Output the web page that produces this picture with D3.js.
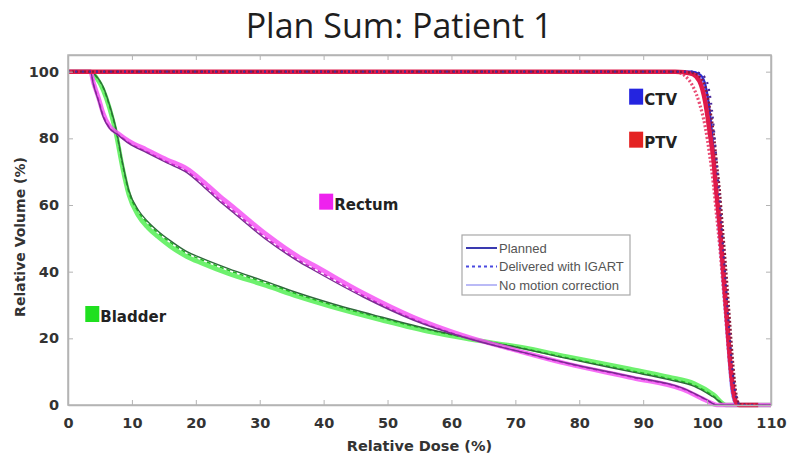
<!DOCTYPE html>
<html>
<head>
<meta charset="utf-8">
<script src="https://cdn.jsdelivr.net/npm/d3@7/dist/d3.min.js"></script>
<style>
  body { margin: 0; background: #fff; }
  svg { display: block; }
</style>
</head>
<body>
<svg id="chart" width="790" height="458"></svg>
<script>
// ---- Axis ticks ----
const xTicks = [0, 10, 20, 30, 40, 50, 60, 70, 80, 90, 100, 110];
const yTicks = [0, 20, 40, 60, 80, 100];

// ---- Bladder DVH (dose %, volume %) ----
const bladderDose        = [0, 3.5, 4.5, 5.5, 6.5, 7.5, 8.5, 9.5, 11, 12.5, 14, 16, 18.6, 21, 25, 31, 36, 41, 49, 57, 62, 71, 78, 88, 94, 98, 101, 103, 110];
const bladderPlanned     = [100, 100, 98.5, 95.5, 90, 83, 73, 64.5, 58.5, 55, 52.3, 49.3, 46, 44, 41, 37, 33.6, 30.6, 26.4, 22.5, 20.4, 17, 14, 10, 7.6, 5.6, 2.4, 0, 0];
const bladderIgart       = [100, 100, 98.3, 95.2, 89.6, 82.5, 72.5, 64, 58, 54.5, 51.8, 48.8, 45.5, 43.5, 40.5, 36.6, 33.2, 30.2, 26.1, 22.3, 20.3, 17.1, 14.2, 10.3, 7.9, 5.9, 2.7, 0, 0];
const bladderNoMotion    = [100, 100, 98, 94.5, 89, 81.5, 71.5, 63.2, 56.8, 53.2, 50.6, 47.6, 44.5, 42.5, 39.5, 35.8, 32.5, 29.6, 25.5, 21.8, 20, 17.3, 14.6, 10.8, 8.4, 6.4, 3.1, 0, 0];

// ---- Rectum DVH ----
const rectumDose         = [0, 3.5, 4, 4.8, 5.5, 6.5, 7.8, 9.5, 12.3, 15.5, 18.6, 21.2, 23.5, 25.9, 31.1, 36.3, 38.4, 46.2, 54, 61.8, 70.7, 78, 88.4, 96.3, 100, 101.5, 110];
const rectumPlanned      = [100, 100, 96, 91, 86.5, 83, 81, 78.5, 75.7, 72.6, 69.7, 65.5, 61.5, 57.7, 49.5, 42.8, 40.5, 32.4, 25.5, 20.4, 16, 12.6, 8.4, 5, 1.5, 0, 0];
const rectumIgart        = [100, 100, 96.2, 91.4, 86.9, 83.2, 81.2, 78.7, 76, 72.9, 70.1, 66, 62, 58.2, 50, 43.2, 41, 32.8, 25.8, 20.5, 16, 12.5, 8.3, 4.8, 1.4, 0, 0];
const rectumNoMotion     = [100, 100, 96.6, 92, 87.5, 83.6, 81.5, 79.2, 76.6, 73.6, 70.9, 67, 63.1, 59.3, 51.1, 44.2, 42, 33.6, 26.4, 20.9, 16.1, 12.4, 8.1, 4.6, 1.2, 0, 0];

// ---- CTV DVH ----
const ctvDose            = [0, 97.5, 98.8, 99.6, 100.3, 100.9, 101.4, 101.9, 102.4, 102.9, 103.4, 103.9, 104.5, 105.2, 108];
const ctvPlanned         = [100, 100, 99.3, 97, 90, 79, 67, 55, 42, 29, 16, 5, 0.6, 0, 0];
const ctvIgart           = [100, 100, 99.6, 98.4, 94.5, 86, 75, 63, 50, 37, 24, 12, 3, 0, 0];
const ctvNoMotion        = [100, 100, 99, 96, 88, 76.5, 64, 52, 39.5, 27, 14.5, 4, 0.4, 0, 0];

// ---- PTV DVH ----
const ptvDose            = [0, 95, 96.5, 97.8, 98.8, 99.7, 100.4, 101, 101.5, 102, 102.4, 102.8, 103.2, 103.6, 104.1, 104.6, 105.1, 108];
const ptvPlanned         = [100, 100, 99.8, 99.2, 97.2, 91, 82, 73.6, 63, 53.5, 43.5, 33.6, 23.5, 13.5, 4.5, 0.6, 0, 0];
const ptvIgart           = [100, 100, 99.9, 99.6, 98.6, 95.5, 89.5, 82, 73, 64, 54.5, 45, 35, 24.5, 12, 3, 0.3, 0];
const ptvNoMotion        = [100, 100, 98.8, 95.5, 90.5, 83.5, 75, 66, 56.5, 47, 38, 29, 19.5, 10.5, 2.8, 0.2, 0, 0];

// ---- Structure annotations (marker position in dose/volume units) ----
const labelNames  = ["CTV", "PTV", "Rectum", "Bladder"];
const labelDose   = [88.9, 88.9, 40.4, 3.8];
const labelVolume = [92.5, 79.6, 61.0, 27.3];
const labelColors = ["#2424e0", "#e42222", "#ee22ee", "#1fe01f"];

// ---- Legend ----
const legendNames = ["Planned", "Delivered with IGART", "No motion correction"];

// ---- Layout ----
const W = 790, H = 458;
const margin = { top: 55, right: 19, bottom: 53, left: 68 };
const svg = d3.select("#chart");

const x = d3.scaleLinear().domain([0, 110]).range([margin.left, W - margin.right]);
const y = d3.scaleLinear().domain([0, 105]).range([H - margin.bottom, margin.top]);

// Title
svg.append("text")
  .attr("x", 399).attr("y", 38)
  .attr("text-anchor", "middle")
  .attr("font-family", "'Open Sans', sans-serif")
  .attr("font-size", 34)
  .attr("fill", "#1e1e1e")
  .text("Plan Sum: Patient 1");

// Axes box
const plot = svg.append("g");
plot.append("rect")
  .attr("x", x(0)).attr("y", y(105))
  .attr("width", x(110) - x(0)).attr("height", y(0) - y(105))
  .attr("fill", "#fff").attr("stroke", "#b4b4b4").attr("stroke-width", 1.5);

// Bottom / left axes with inward ticks, mirrored on top / right
const tickFont = "'DejaVu Sans', sans-serif";
const xAxis = d3.axisBottom(x).tickValues(xTicks).tickSizeInner(-5).tickSizeOuter(0).tickPadding(13);
const yAxis = d3.axisLeft(y).tickValues(yTicks).tickSizeInner(-5).tickSizeOuter(0).tickPadding(9);
const xAxisTop = d3.axisTop(x).tickValues(xTicks).tickSizeInner(-5).tickSizeOuter(0).tickFormat("");
const yAxisRight = d3.axisRight(y).tickValues(yTicks).tickSizeInner(-5).tickSizeOuter(0).tickFormat("");

function styleAxis(g) {
  g.select(".domain").attr("stroke", "#b4b4b4").attr("stroke-width", 1.5);
  g.selectAll(".tick line").attr("stroke", "#b4b4b4");
  g.selectAll(".tick text")
    .attr("font-family", tickFont).attr("font-weight", "bold")
    .attr("font-size", 14.5).attr("fill", "#333");
}
svg.append("g").attr("transform", `translate(0,${y(0)})`).call(xAxis).call(styleAxis);
svg.append("g").attr("transform", `translate(${x(0)},0)`).call(yAxis).call(styleAxis);
svg.append("g").attr("transform", `translate(0,${y(105)})`).call(xAxisTop).call(styleAxis);
svg.append("g").attr("transform", `translate(${x(110)},0)`).call(yAxisRight).call(styleAxis);

// Axis titles
svg.append("text")
  .attr("x", (x(0) + x(110)) / 2).attr("y", 451)
  .attr("text-anchor", "middle")
  .attr("font-family", tickFont).attr("font-weight", "bold").attr("font-size", 14.5)
  .attr("fill", "#333")
  .text("Relative Dose (%)");
svg.append("text")
  .attr("transform", `translate(25,237) rotate(-90)`)
  .attr("text-anchor", "middle")
  .attr("font-family", tickFont).attr("font-weight", "bold").attr("font-size", 14)
  .attr("fill", "#333")
  .text("Relative Volume (%)");

// DVH curves
const line = d3.line()
  .x(d => x(d[0]))
  .y(d => y(d[1]))
  .curve(d3.curveMonotoneX);

const curves = plot.append("g");
function drawCurve(dose, vol, stroke, width, dash, opacity) {
  curves.append("path")
    .datum(d3.zip(dose, vol))
    .attr("d", line)
    .attr("fill", "none")
    .attr("stroke", stroke)
    .attr("stroke-width", width)
    .attr("stroke-dasharray", dash || null)
    .attr("stroke-opacity", opacity == null ? 1 : opacity)
    .attr("stroke-linejoin", "round");
}

// Bladder
drawCurve(bladderDose, bladderNoMotion, "#55ee55", 4.5, null, 0.85);
drawCurve(bladderDose, bladderIgart, "#20c020", 1.6, "4,3");
drawCurve(bladderDose, bladderPlanned, "#2e6a3a", 1.4);
// Rectum
drawCurve(rectumDose, rectumNoMotion, "#f455f4", 4.5, null, 0.85);
drawCurve(rectumDose, rectumIgart, "#d020d0", 1.6, "4,3");
drawCurve(rectumDose, rectumPlanned, "#7a2c92", 1.4);
// CTV
drawCurve(ctvDose, ctvNoMotion, "#7878ff", 3, null, 0.9);
drawCurve(ctvDose, ctvPlanned, "#2a2ad0", 2);
// PTV
drawCurve(ptvDose, ptvNoMotion, "#e83a66", 3.2, "2,2", 0.9);
drawCurve(ptvDose, ptvPlanned, "#e01a4a", 4.5);
drawCurve(ptvDose, ptvIgart, "#8a1a3a", 2.4, "2,2");
drawCurve(ctvDose, ctvIgart, "#4a2a9a", 2.2, "2,5");

// Structure markers and names
const labels = plot.append("g").selectAll("g")
  .data(d3.range(labelNames.length))
  .join("g")
  .attr("transform", i => `translate(${x(labelDose[i])},${y(labelVolume[i])})`);
labels.append("rect")
  .attr("x", -7).attr("y", -8).attr("width", 14).attr("height", 16)
  .attr("fill", i => labelColors[i]);
labels.append("text")
  .attr("x", 8).attr("y", 8)
  .attr("font-family", tickFont).attr("font-weight", "bold").attr("font-size", 15)
  .attr("fill", "#222")
  .text(i => labelNames[i]);

// Legend
const legend = plot.append("g").attr("transform", "translate(462,235)");
legend.append("rect")
  .attr("width", 168).attr("height", 60)
  .attr("fill", "#fff").attr("stroke", "#a8a8a8").attr("stroke-width", 1.2);
const legendStyles = [
  { stroke: "#3a3ab0", width: 2, dash: null },
  { stroke: "#4a4ae0", width: 2, dash: "3,3" },
  { stroke: "#8c8cf0", width: 1.2, dash: null }
];
const rows = legend.selectAll("g.row")
  .data(legendNames)
  .join("g")
  .attr("class", "row")
  .attr("transform", (d, i) => `translate(0,${13 + i * 18.5})`);
rows.append("line")
  .attr("x1", 4).attr("x2", 35)
  .attr("stroke", (d, i) => legendStyles[i].stroke)
  .attr("stroke-width", (d, i) => legendStyles[i].width)
  .attr("stroke-dasharray", (d, i) => legendStyles[i].dash);
rows.append("text")
  .attr("x", 37).attr("y", 4.5)
  .attr("font-family", "'Liberation Sans', Arial, sans-serif")
  .attr("font-size", 13)
  .attr("fill", "#555")
  .text(d => d);
</script>
</body>
</html>
